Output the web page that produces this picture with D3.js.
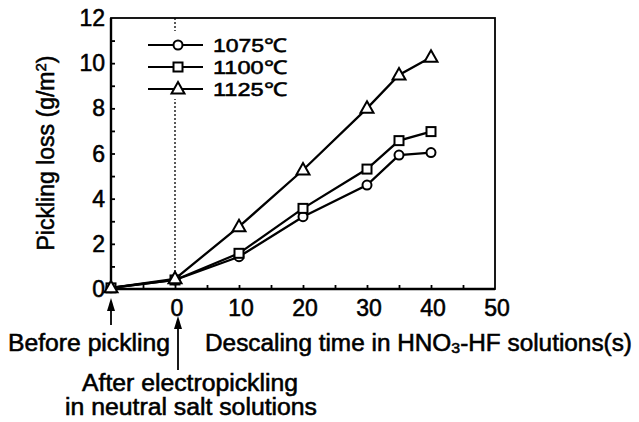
<!DOCTYPE html>
<html>
<head>
<meta charset="utf-8">
<script src="https://cdn.jsdelivr.net/npm/d3@7"></script>
<style>
  body { margin: 0; background: #fff; }
  text { font-family: "Liberation Sans", Arial, sans-serif; fill: #000; stroke: #000; stroke-width: 0.55px; }
</style>
</head>
<body>
<div id="chart"></div>
<script>
// descaling time (s); -10 stands for "before pickling"
const times = [-10, 0, 10, 20, 30, 35, 40];
const loss1075 = [0.05, 0.4, 1.43, 3.2, 4.6, 5.93, 6.04];
const loss1100 = [0.05, 0.4, 1.58, 3.57, 5.31, 6.57, 6.97];
const loss1125 = [0.05, 0.45, 2.76, 5.27, 8.0, 9.48, 10.26];
const seriesNames = ['1075℃', '1100℃', '1125℃'];
const seriesMarkers = ['circle', 'square', 'triangle'];
const xTickLabels = [0, 10, 20, 30, 40, 50];
const yTickLabels = [0, 2, 4, 6, 8, 10, 12];

const W = 639, H = 422;
const m = { left: 111, top: 18, right: 144, bottom: 133 };
const iw = W - m.left - m.right, ih = H - m.top - m.bottom;

const svg = d3.select('#chart').append('svg')
    .attr('width', W).attr('height', H);

const x = d3.scaleLinear().domain([-10, 50]).range([m.left, m.left + iw]);
const y = d3.scaleLinear().domain([0, 12]).range([m.top + ih, m.top]);

// dotted line at t = 0
svg.append('line')
    .attr('x1', x(0)).attr('x2', x(0))
    .attr('y1', y(12)).attr('y2', y(0.45))
    .attr('stroke', '#000').attr('stroke-width', 1.3)
    .attr('stroke-dasharray', '2,2');

// frame
svg.append('rect')
    .attr('x', x(-10)).attr('y', y(12))
    .attr('width', iw).attr('height', ih)
    .attr('fill', 'none').attr('stroke', '#000').attr('stroke-width', 1.8);
svg.append('line')
    .attr('x1', x(-10)).attr('x2', x(50)).attr('y1', y(0)).attr('y2', y(0))
    .attr('stroke', '#000').attr('stroke-width', 2.4);
svg.append('line')
    .attr('x1', x(-10)).attr('x2', x(-10)).attr('y1', y(0)).attr('y2', y(12))
    .attr('stroke', '#000').attr('stroke-width', 2.4);

// ticks (inward)
const xAxis = d3.axisTop(x).tickValues(d3.range(-5, 50, 5)).tickSize(4).tickFormat('');
svg.append('g').attr('transform', `translate(0,${y(0)})`).call(xAxis)
    .call(g => g.select('.domain').remove())
    .selectAll('line').attr('stroke-width', 1.8);
const yAxis = d3.axisRight(y).tickValues(d3.range(1, 12, 1)).tickSize(4).tickFormat('');
svg.append('g').attr('transform', `translate(${x(-10)},0)`).call(yAxis)
    .call(g => g.select('.domain').remove())
    .selectAll('line').attr('stroke-width', 1.8);

// tick labels
svg.selectAll('.xl').data(xTickLabels).enter().append('text')
    .attr('x', d => x(d) + 2).attr('y', y(0) + 27)
    .attr('text-anchor', 'middle').attr('font-size', 23)
    .text(d => d);
svg.selectAll('.yl').data(yTickLabels).enter().append('text')
    .attr('x', x(-10) - 6).attr('y', d => y(d) + 8)
    .attr('text-anchor', 'end').attr('font-size', 23)
    .text(d => d);

// axis titles
const yt = svg.append('text')
    .attr('transform', `translate(54,153) rotate(-90)`)
    .attr('text-anchor', 'middle').attr('font-size', 23);
yt.append('tspan').text('Pickling loss (g/m');
yt.append('tspan').attr('font-size', 15).attr('dy', -8).text('2');
yt.append('tspan').attr('dy', 8).text(')');

const xt = svg.append('text').attr('x', 205).attr('y', 351).attr('font-size', 23)
    .attr('textLength', 427).attr('lengthAdjust', 'spacingAndGlyphs');
xt.append('tspan').text('Descaling time in HNO');
xt.append('tspan').attr('font-size', 15).attr('dy', 2).text('3');
xt.append('tspan').attr('dy', -2).text('-HF solutions(s)');

svg.append('text').attr('x', 8).attr('y', 351).attr('font-size', 23)
    .attr('textLength', 162).attr('lengthAdjust', 'spacingAndGlyphs').text('Before pickling');
svg.append('text').attr('x', 82).attr('y', 391)
    .attr('font-size', 23).attr('textLength', 216).attr('lengthAdjust', 'spacingAndGlyphs')
    .text('After electropickling');
svg.append('text').attr('x', 65).attr('y', 415)
    .attr('font-size', 23).attr('textLength', 252).attr('lengthAdjust', 'spacingAndGlyphs')
    .text('in neutral salt solutions');

// arrows
function arrow(xp, yTip, yEnd) {
    svg.append('line').attr('x1', xp).attr('x2', xp).attr('y1', yTip + 8).attr('y2', yEnd)
        .attr('stroke', '#000').attr('stroke-width', 1.8);
    svg.append('path')
        .attr('d', `M${xp},${yTip} L${xp - 4},${yTip + 13} L${xp + 4},${yTip + 13} Z`)
        .attr('fill', '#000');
}
arrow(x(-10), 298, 325);
arrow(x(0) + 3, 316, 370);

// marker drawing
function marker(sel, type) {
    if (type === 'circle') {
        sel.append('circle').attr('r', 4.5);
    } else if (type === 'square') {
        sel.append('rect').attr('x', -4.5).attr('y', -4.5).attr('width', 9).attr('height', 9);
    } else {
        sel.append('path').attr('d', 'M0,-7 L6.5,4.5 L-6.5,4.5 Z');
    }
    sel.selectAll('circle,rect,path')
        .attr('fill', '#fff').attr('stroke', '#000').attr('stroke-width', 2);
}

const allSeries = [loss1075, loss1100, loss1125];
const line = d3.line().x((d, i) => x(times[i])).y(d => y(d));

allSeries.forEach((vals, k) => {
    svg.append('path').datum(vals).attr('d', line)
        .attr('fill', 'none').attr('stroke', '#000').attr('stroke-width', 2.3);
});
allSeries.forEach((vals, k) => {
    vals.forEach((v, i) => {
        const g = svg.append('g').attr('transform', `translate(${x(times[i])},${y(v)})`);
        marker(g, seriesMarkers[k]);
    });
});

// legend
svg.append('rect').attr('x', 140).attr('y', 31).attr('width', 160).attr('height', 68).attr('fill', '#fff');
const legRows = [45, 67, 89];
seriesNames.forEach((name, k) => {
    svg.append('line').attr('x1', 148).attr('x2', 203)
        .attr('y1', legRows[k]).attr('y2', legRows[k])
        .attr('stroke', '#000').attr('stroke-width', 1.8);
    const g = svg.append('g').attr('transform', `translate(178,${legRows[k]})`);
    marker(g, seriesMarkers[k]);
    svg.append('text').attr('x', 213).attr('y', legRows[k] + 7)
        .attr('font-size', 19).attr('textLength', 74).attr('lengthAdjust', 'spacingAndGlyphs')
        .text(name);
});
</script>
</body>
</html>
